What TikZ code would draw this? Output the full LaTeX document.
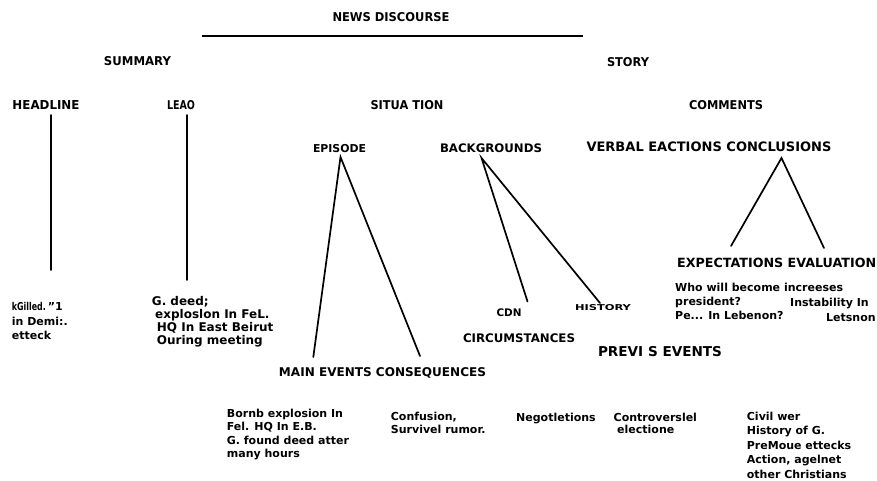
\documentclass[tikz,border=0pt]{standalone}
\usepackage{fontspec}
\setmainfont{DejaVu Sans}
\usepackage{graphicx}
\newcommand\fw[2]{\resizebox{#1pt}{!}{#2}}
\newcommand\fwh[3]{\resizebox{#1pt}{#2pt}{#3}}
\newcommand\tline[4]{\node[txt] (#1) at (#2,#3) {#4};}
\begin{document}
\begin{tikzpicture}[x=1pt,y=-1pt,
  txt/.style={inner sep=0pt, font=\fontsize{11}{13}\selectfont\bfseries, anchor=base west},
  bigtxt/.style={txt, font=\fontsize{12}{14}\selectfont\bfseries},
  lab/.style={inner sep=0pt, font=\fontsize{11.2}{13}\selectfont\bfseries, anchor=base},
  edge/.style={line width=1.7pt, line cap=round}]
\fill[white] (0,0) rectangle (877,480);
\useasboundingbox (0,0) rectangle (877,480);

% titles
\node[lab] (news) at (391,21.5) {\fwh{117}{9}{NEWS DISCOURSE}};
\coordinate (ruleL) at (202,36);
\coordinate (ruleR) at (583,36);
\draw[line width=1.3pt] (ruleL) -- (ruleR);
\node[lab] (summary) at (137.5,65) {\fwh{67}{9}{SUMMARY}};
\node[lab] (story) at (628,66.5) {\fwh{42}{9}{STORY}};
\node[lab] (headline) at (46,109.5) {\fwh{67}{9}{HEADLINE}};
\node[lab] (lead) at (181,109.5) {\fwh{28}{9}{LEAO}};
\node[lab] (situation) at (407,109) {\fwh{73}{9}{SITUA TION}};
\node[lab] (comments) at (726,109) {\fwh{74}{9}{COMMENTS}};
\node[lab] (episode) at (339.5,152) {\fw{53}{EPISODE}};
\node[lab] (backgrounds) at (491,152) {\fw{102}{BACKGROUNDS}};
\node[lab] (verbal) at (709,151) {\fw{245}{VERBAL EACTIONS CONCLUSIONS}};
\node[txt] (expect) at (677,267) {\fw{199}{EXPECTATIONS EVALUATION}};
\node[lab] (mainev) at (382.5,376) {\fw{207}{MAIN EVENTS CONSEQUENCES}};
\node[lab] (cdn) at (509,316) {\fw{25}{CDN}};
\node[lab] (history) at (603,310) {\fwh{56}{6}{HISTORY}};
\node[lab] (circ) at (519,342.5) {\fw{112}{CIRCUMSTANCES}};
\node[lab] (previ) at (660,356) {\fw{124}{PREVI S EVENTS}};

% connectors
\coordinate (hl1) at (51,115);
\coordinate (hl2) at (51,270);
\coordinate (ld1) at (187,115);
\coordinate (ld2) at (187,280);
\coordinate (epA) at (340.5,157);
\coordinate (epL) at (313.3,357);
\coordinate (epR) at (420,356);
\coordinate (bgA) at (481.5,158);
\coordinate (bgL) at (527.5,301.5);
\coordinate (bgR) at (600,303);
\coordinate (vbA) at (781.5,158);
\coordinate (vbL) at (731,246);
\coordinate (vbR) at (824,248);
\draw[edge] (hl1) -- (hl2);
\draw[edge] (ld1) -- (ld2);
\draw[edge] (epL) -- (epA) -- (epR);
\draw[edge] (bgL) -- (bgA) -- (bgR);
\draw[edge] (vbL) -- (vbA) -- (vbR);

% headline text
\tline{k1}{11.7}{310.5}{\scalebox{0.72}[0.98]{kGilled.}\hspace{2pt}\symbol{34}1}
\tline{k2}{11.7}{325.5}{in Demi:.}
\tline{k3}{11.7}{339}{etteck}

% lead text
\node[bigtxt] (g1) at (151.7,305.5) {G. deed;};
\node[bigtxt] (g2) at (155,318.5) {exploslon In FeL.};
\node[bigtxt] (g3) at (156.7,331.5) {HQ In East Beirut};
\node[bigtxt] (g4) at (156.7,344) {Ouring meeting};

% main events
\tline{b1}{226.7}{417}{Bornb explosion In}
\tline{b2}{226.7}{430.5}{Fel. HQ In E.B.}
\tline{b3}{226.7}{444}{G. found deed atter}
\tline{b4}{226.7}{457}{many hours}

% consequences
\tline{c1}{390.7}{420.5}{Confusion,}
\tline{c2}{390.7}{433}{Survivel rumor.}

% circumstances / previous
\tline{n1}{516}{421}{Negotletions}
\tline{v1}{613.5}{421}{Controverslel}
\tline{v2}{617}{433.5}{electione}

% history
\tline{h1}{746.7}{420}{Civil wer}
\tline{h2}{746.7}{434.5}{History of G.}
\tline{h3}{746.7}{449}{PreMoue ettecks}
\tline{h4}{746.7}{463.5}{Action, agelnet}
\tline{h5}{746.7}{478}{other Christians}

% comments text
\tline{w1}{675}{291}{Who will become increeses}
\tline{w2}{675}{305.5}{president?}
\tline{w3}{790}{306.5}{Instability In}
\tline{w4}{675}{319.5}{Pe... In Lebenon?}
\tline{w5}{826}{321.5}{Letsnon}
\end{tikzpicture}
\end{document}
